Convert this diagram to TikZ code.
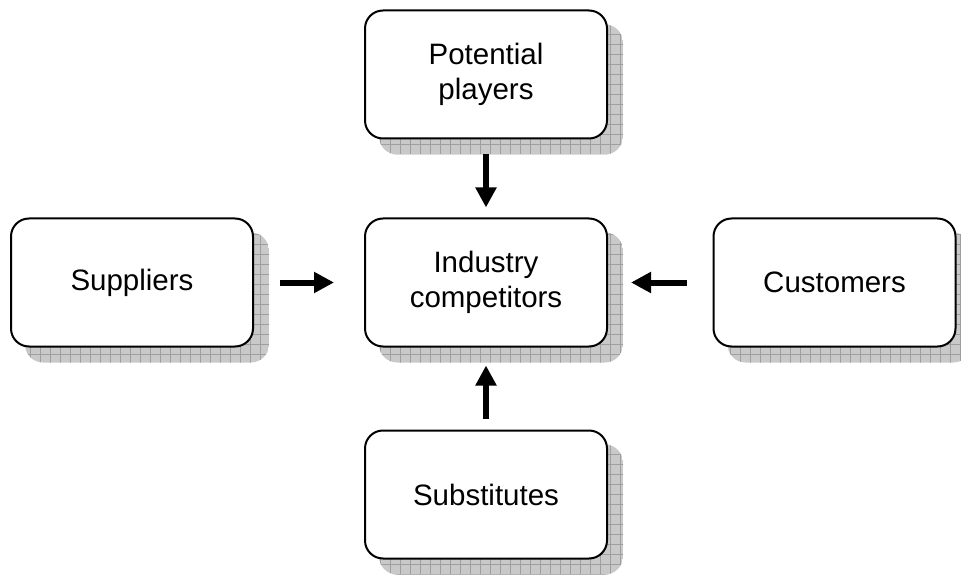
\documentclass[tikz,border=0pt]{standalone}
\usepackage{fontspec}
\setmainfont{Liberation Sans}
\usetikzlibrary{arrows.meta,backgrounds,calc}

\tikzset{
  force/.style={draw=black, line width=2pt, rounded corners=18pt, fill=white,
    minimum width=242pt, minimum height=128pt, align=center,
    font=\fontsize{29.5pt}{35pt}\selectfont, inner sep=0pt},
  push/.style={line width=6pt, -{Triangle[length=20pt,width=20pt]}}
}

% grey gridded drop shadow behind a named box
\newcommand{\gridshadow}[1]{%
  \begin{scope}
    \clip[rounded corners=18pt] ($(#1.south west)+(15pt,-15pt)$) rectangle ($(#1.north east)+(15pt,-15pt)$);
    \fill[gray!42] ($(#1.south west)+(15pt,-15pt)$) rectangle ($(#1.north east)+(15pt,-15pt)$);
    \draw[gray!75, line width=0.8pt, step=10pt] ($(#1.south west)+(10pt,-20pt)$) grid ($(#1.north east)+(20pt,-10pt)$);
  \end{scope}}

\begin{document}
\begin{tikzpicture}[x=1pt,y=1pt]
  \useasboundingbox (0,0) rectangle (961,574);

  \node[force] (pp)  at (486,499.5) {Potential\\players};
  \node[force] (sup) at (132,291.5) {Suppliers};
  \node[force] (ind) at (486,291.5) {Industry\\competitors};
  \node[force] (cus) at (834.5,291.5) {Customers};
  \node[force] (sub) at (486,79.5) {Substitutes};

  \begin{scope}[on background layer]
    \gridshadow{pp}
    \gridshadow{sup}
    \gridshadow{ind}
    \gridshadow{cus}
    \gridshadow{sub}
  \end{scope}

  \draw[push, shorten <=15pt, shorten >=10pt] (pp) -- (ind);
  \draw[push, shorten <=26pt, shorten >=30pt] (sup) -- (ind);
  \draw[push, shorten <=26pt, shorten >=23pt] (cus) -- (ind);
  \draw[push, shorten <=11pt, shorten >=18pt] (sub) -- (ind);
\end{tikzpicture}
\end{document}
